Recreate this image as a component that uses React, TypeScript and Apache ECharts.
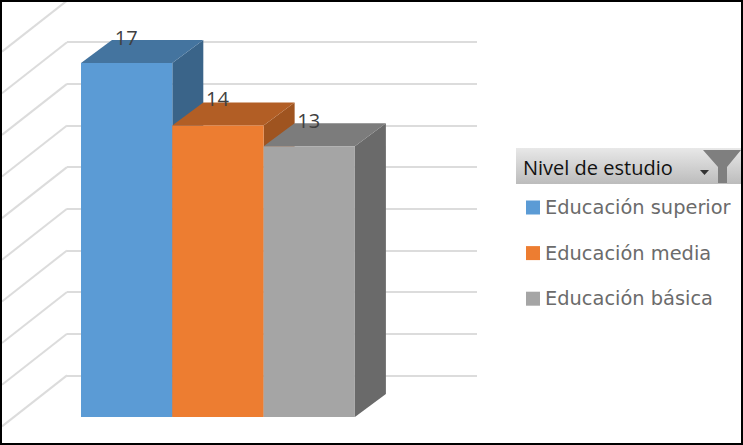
import React, { useEffect, useRef } from "react";
import * as echarts from "echarts";

const categories = ["Nivel de estudio"];
const seriesNames = ["Educación superior", "Educación media", "Educación básica"];
const seriesValues = [17, 14, 13];
const frontColors = ["#5b9bd5", "#ed7d31", "#a5a5a5"];
const topColors = ["#44749f", "#b25e25", "#7c7c7c"];
const sideColors = ["#3a6489", "#9f5420", "#6a6a6a"];
const gridTicks = [2, 4, 6, 8, 10, 12, 14, 16, 18, 20];

const DX = 31;
const DY = 23;
const BAR_W = 91.3;
const LABEL_RISE = [26, 27, 26];

export default function App() {
  const ref = useRef<HTMLDivElement>(null);
  useEffect(() => {
    const chart = echarts.init(ref.current!, undefined, { renderer: "svg" });
    const barSeries = seriesNames.map((name, i) => ({
      type: "custom",
      name,
      xAxisIndex: 0,
      yAxisIndex: 0,
      z: 5,
      itemStyle: { color: frontColors[i] },
      data: [[categories[0], seriesValues[i]]],
      renderItem: (_p: any, api: any) => {
        const top = api.coord([0, api.value(1)]);
        const base = api.coord([0, 0]);
        const size = api.size([1, 0])[0];
        const x0 = top[0] - size / 2 + i * BAR_W;
        const x1 = x0 + BAR_W;
        const yt = top[1];
        const yb = base[1];
        return {
          type: "group",
          children: [
            {
              type: "polygon",
              shape: { points: [[x1, yt], [x1 + DX, yt - DY], [x1 + DX, yb - DY], [x1, yb]] },
              style: { fill: sideColors[i] },
            },
            {
              type: "polygon",
              shape: { points: [[x0, yt], [x0 + DX, yt - DY], [x1 + DX, yt - DY], [x1, yt]] },
              style: { fill: topColors[i] },
            },
            {
              type: "rect",
              shape: { x: x0, y: yt, width: BAR_W, height: yb - yt },
              style: { fill: frontColors[i] },
            },
            {
              type: "text",
              x: x0 + BAR_W / 2 - 0.5,
              y: yt - LABEL_RISE[i],
              style: {
                text: String(api.value(1)),
                fill: "#404040",
                font: "20px 'Open Sans'",
                align: "center",
                verticalAlign: "middle",
              },
            },
          ],
        };
      },
    }));

    const diagonalSeries = {
      type: "custom",
      xAxisIndex: 1,
      yAxisIndex: 1,
      z: 1,
      silent: true,
      data: gridTicks.map((t) => [0, t]),
      clip: false,
      renderItem: (p: any, api: any) => {
        const c = api.coord([0, api.value(1)]);
        return {
          type: "line",
          shape: { x1: c[0], y1: c[1], x2: 2, y2: c[1] + 51 },
          style: { stroke: "#dcdcdc", lineWidth: 2 },
        };
      },
    };

    chart.setOption({
      animation: false,
      backgroundColor: "#ffffff",
      grid: [
        { left: 81, top: 0.6, width: BAR_W * 3, bottom: 28 },
        { left: 67, top: 0.6, width: 410, bottom: 28 },
      ],
      xAxis: [
        { type: "category", gridIndex: 0, data: categories, show: false },
        { type: "value", gridIndex: 1, min: 0, max: 1, show: false },
      ],
      yAxis: [
        { type: "value", gridIndex: 0, min: 0, max: 20, interval: 2, show: false },
        {
          type: "value",
          gridIndex: 1,
          min: 0,
          max: 20,
          interval: 2,
          axisLine: { show: false },
          axisTick: { show: false },
          axisLabel: { show: false },
          splitLine: { show: true, showMinLine: false, lineStyle: { color: "#dcdcdc", width: 2 } },
        },
      ],
      legend: {
        orient: "vertical",
        left: 526,
        top: 198,
        padding: 0,
        icon: "rect",
        itemWidth: 14,
        itemHeight: 14,
        itemGap: 26.6,
        data: seriesNames,
        textStyle: { fontFamily: "'DejaVu Sans'", fontSize: 19.4, color: "#6b6b6b" },
      },
      graphic: [
        {
          type: "rect",
          z: 10,
          shape: { x: 516, y: 148, width: 227, height: 36 },
          style: {
            fill: new echarts.graphic.LinearGradient(0, 0, 0, 1, [
              { offset: 0, color: "#e8e8e8" },
              { offset: 1, color: "#bcbcbc" },
            ]),
          },
        },
        {
          type: "text",
          z: 11,
          x: 523,
          y: 167,
          style: { text: "Nivel de estudio", fill: "#111111", font: "20px 'Open Sans'", verticalAlign: "middle" },
        },
        {
          type: "polygon",
          z: 11,
          shape: { points: [[703, 150], [741, 150], [727, 167], [727, 183], [718, 183], [718, 167]] },
          style: { fill: "#7f7f7f" },
        },
        {
          type: "polygon",
          z: 11,
          shape: { points: [[700, 170], [709, 170], [704.5, 175]] },
          style: { fill: "#333333" },
        },
        {
          type: "rect",
          z: 20,
          shape: { x: 1, y: 1, width: 741, height: 443 },
          style: { fill: "none", stroke: "#000000", lineWidth: 2 },
        },
      ],
      series: [diagonalSeries, ...barSeries],
    });
    return () => chart.dispose();
  }, []);
  return <div ref={ref} style={{ position: "absolute", left: 0, top: 0, width: 743, height: 445 }} />;
}
